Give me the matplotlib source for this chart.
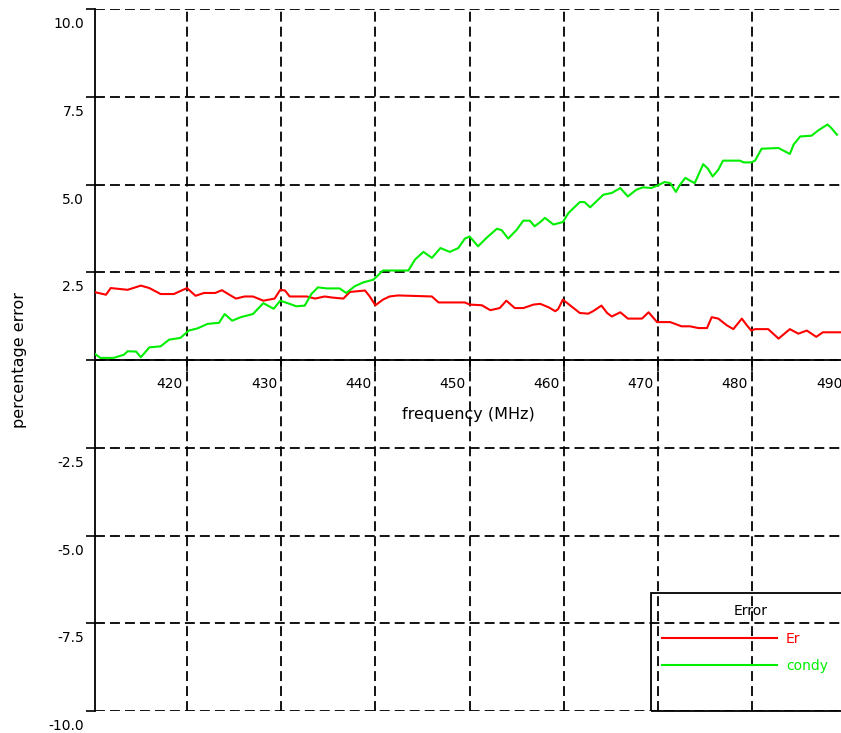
import matplotlib
matplotlib.use("Agg")
import matplotlib.pyplot as plt
import matplotlib.transforms as mtransforms
from matplotlib.lines import Line2D

# Er curve (red)
freq_er = [410.1, 411.4, 411.9, 413.7, 415.1, 416.0, 417.2, 418.6, 420.0, 420.9,
           421.8, 423.0, 423.7, 424.5, 425.2, 426.1, 427.0, 428.1, 429.3, 429.9,
           430.4, 430.9, 432.7, 433.6, 434.6, 435.4, 436.6, 437.3, 438.9, 439.4,
           440.0, 440.8, 441.5, 442.4, 446.0, 446.7, 449.5, 450.0, 451.3, 452.2,
           453.2, 453.9, 454.8, 455.7, 456.8, 457.5, 458.4, 459.1, 459.4, 459.9,
           460.8, 461.7, 462.6, 463.1, 464.0, 464.6, 465.1, 466.0, 466.8, 468.3,
           469.0, 469.9, 471.3, 472.5, 473.4, 474.3, 475.2, 475.7, 476.4, 477.3,
           478.0, 478.9, 479.4, 479.9, 480.3, 481.7, 482.8, 484.0, 484.9, 485.8,
           486.8, 487.5, 489.7]
er = [1.94, 1.86, 2.05, 2.00, 2.12, 2.05, 1.88, 1.88, 2.05, 1.83,
      1.91, 1.91, 1.99, 1.86, 1.75, 1.81, 1.81, 1.69, 1.75, 2.00,
      1.98, 1.81, 1.81, 1.75, 1.81, 1.78, 1.75, 1.94, 1.98, 1.81,
      1.56, 1.72, 1.81, 1.84, 1.81, 1.64, 1.64, 1.58, 1.56, 1.42,
      1.48, 1.69, 1.48, 1.48, 1.58, 1.60, 1.50, 1.39, 1.45, 1.72,
      1.53, 1.34, 1.32, 1.39, 1.55, 1.34, 1.24, 1.36, 1.18, 1.18,
      1.36, 1.08, 1.08, 0.96, 0.96, 0.91, 0.91, 1.22, 1.18, 0.99,
      0.88, 1.18, 1.00, 0.84, 0.88, 0.88, 0.61, 0.88, 0.75, 0.84,
      0.66, 0.79, 0.79]

# condy curve (green)
freq_condy = [410.1, 410.8, 412.2, 413.3, 413.7, 414.6, 415.1, 416.0, 417.2, 418.1,
              419.3, 420.2, 421.1, 422.2, 423.4, 424.0, 424.8, 425.7, 427.0, 428.1,
              429.2, 429.9, 430.9, 431.6, 432.5, 433.2, 433.9, 434.8, 436.2, 436.9,
              437.8, 438.7, 439.8, 440.8, 443.5, 444.2, 445.1, 446.0, 446.9, 447.9,
              448.8, 449.5, 450.0, 450.9, 451.8, 452.9, 453.4, 454.1, 455.0, 455.7,
              456.4, 456.9, 457.5, 458.0, 458.9, 459.9, 460.5, 461.7, 462.2, 462.8,
              464.2, 465.1, 466.0, 466.8, 467.7, 468.4, 469.3, 470.0, 470.7, 471.3,
              471.9, 472.3, 472.9, 473.4, 473.9, 474.8, 475.3, 475.8, 476.4, 476.9,
              478.7, 479.1, 479.9, 480.3, 481.0, 482.8, 484.0, 484.4, 485.1, 486.3,
              487.0, 488.0, 488.4, 489.0]
condy = [0.20, 0.06, 0.06, 0.15, 0.25, 0.24, 0.08, 0.36, 0.39, 0.58,
         0.63, 0.84, 0.90, 1.03, 1.06, 1.31, 1.12, 1.22, 1.31, 1.62,
         1.46, 1.69, 1.60, 1.53, 1.55, 1.88, 2.07, 2.04, 2.04, 1.91,
         2.10, 2.21, 2.29, 2.55, 2.55, 2.86, 3.08, 2.91, 3.19, 3.08,
         3.19, 3.46, 3.52, 3.24, 3.48, 3.74, 3.70, 3.46, 3.71, 3.97,
         3.97, 3.81, 3.93, 4.05, 3.86, 3.93, 4.19, 4.50, 4.50, 4.35,
         4.71, 4.76, 4.90, 4.66, 4.85, 4.92, 4.90, 4.98, 5.07, 5.04,
         4.79, 4.98, 5.19, 5.11, 5.04, 5.58, 5.45, 5.23, 5.42, 5.68,
         5.68, 5.63, 5.63, 5.68, 6.02, 6.04, 5.87, 6.14, 6.37, 6.39,
         6.54, 6.71, 6.61, 6.42]

x_ticks = [420, 430, 440, 450, 460, 470, 480, 490]
y_ticks = [-10.0, -7.5, -5.0, -2.5, 0.0, 2.5, 5.0, 7.5, 10.0]
y_tick_labels = ['-10.0', '-7.5', '-5.0', '-2.5', '', '2.5', '5.0', '7.5', '10.0']

plt.rcParams['font.family'] = 'DejaVu Sans'

fig = plt.figure(figsize=(8.41, 7.33), dpi=100)
ax = fig.add_axes([0.1126, 0.0300, 0.8994, 0.9577])

l1, = ax.plot(freq_er, er, color='#ff0000', lw=1.5, zorder=3)
l2, = ax.plot(freq_condy, condy, color='#00ee00', lw=1.5, zorder=3)

ax.set_xlim(410.2, 490.5)
ax.set_ylim(-10, 10)

ax.spines['top'].set_visible(False)
ax.spines['right'].set_visible(False)
ax.spines['bottom'].set_position(('data', 0))
for s in ('left', 'bottom'):
    ax.spines[s].set_linewidth(1.3)
    ax.spines[s].set_color('black')

ax.set_xticks(x_ticks)
ax.set_xticklabels([str(t) for t in x_ticks])
ax.set_yticks(y_ticks)
ax.set_yticklabels(y_tick_labels)
ax.tick_params(axis='x', direction='out', length=8, width=1.2, pad=4, labelsize=10)
ax.tick_params(axis='y', direction='out', length=6.5, width=1.2, pad=1, labelsize=10)

ax.grid(True, color='black', linestyle=(0, (5.5, 2.8)), linewidth=1.3, zorder=1)

ax.set_xlabel('frequency (MHz)', fontsize=11.5, va='top')
ax.xaxis.set_label_coords(0.4935, 0.433)
ax.set_ylabel('percentage error', fontsize=11.5, va='center')
ax.yaxis.set_label_coords(-0.0994, 0.5)

# tick label nudges
shift_x = mtransforms.ScaledTranslation(-4 / 100, 0, fig.dpi_scale_trans)
for lab in ax.get_xticklabels():
    lab.set_horizontalalignment('right')
    lab.set_transform(lab.get_transform() + shift_x)
shift_y = mtransforms.ScaledTranslation(0, -8 / 100, fig.dpi_scale_trans)
for lab in ax.get_yticklabels():
    lab.set_verticalalignment('top')
    lab.set_transform(lab.get_transform() + shift_y)

blank = Line2D([], [], color='none')
leg = ax.legend([l1, l2, blank], ['Er', 'condy', ' '], title='Error',
                loc='lower left', bbox_to_anchor=(0.735, 0.0, 0.265, 0.2),
                mode='expand', borderaxespad=0, fontsize=10, title_fontsize=10,
                handlelength=8.3, handletextpad=0.65, labelspacing=0.95,
                borderpad=0.8, fancybox=False, edgecolor='black',
                facecolor='none', labelcolor='linecolor')
leg.get_frame().set_linewidth(1.3)
leg.get_frame().set_alpha(None)

fig.savefig('out.png', dpi=100)
